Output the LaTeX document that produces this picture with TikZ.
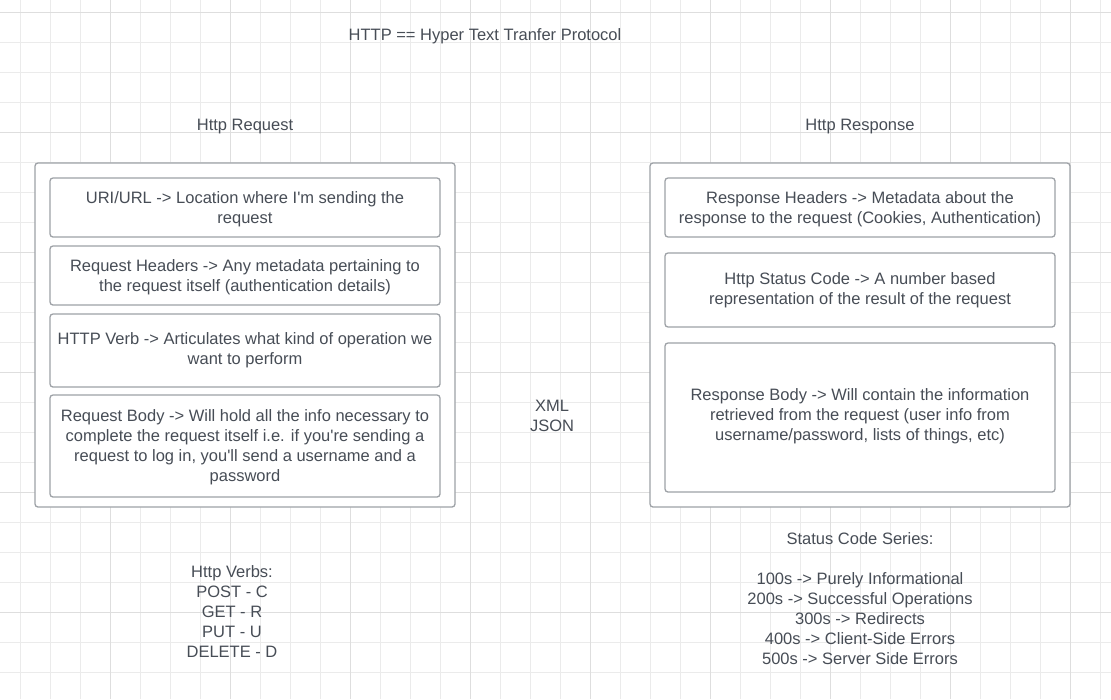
\documentclass[tikz,border=0pt]{standalone}
\usepackage{fontspec}
\setmainfont{Liberation Sans}
\definecolor{txt}{HTML}{474D56}
\definecolor{bord}{HTML}{9EA2A7}
\definecolor{gridminor}{HTML}{EBEBEB}
\definecolor{gridmajor}{HTML}{DEDEDE}
\newcommand{\sq}{\textquotesingle}
\tikzset{
  box/.style={draw=bord, line width=1.3pt, rounded corners=3pt, fill=white, inner sep=0pt},
  plaintext/.style={text=txt, align=center, inner sep=0pt, font=\fontsize{16.5}{20}\selectfont},
  boxtext/.style 2 args={label={[plaintext, yshift=#1]center:{#2}}},
}
\begin{document}
\begin{tikzpicture}[x=1pt,y=-1pt]
\useasboundingbox (0,0) rectangle (1111,699);
\fill[white] (0,0) rectangle (1111,699);
% grid
\foreach \k in {0,...,36} {
  \draw[gridminor, line width=1pt] ({20.5+30*\k},0) -- ({20.5+30*\k},699);
}
\foreach \k in {0,...,23} {
  \draw[gridminor, line width=1pt] (0,{12.5+30*\k}) -- (1111,{12.5+30*\k});
}
\foreach \k in {0,...,8} {
  \draw[gridmajor, line width=1pt] ({110.5+120*\k},0) -- ({110.5+120*\k},699);
}
\foreach \k in {0,...,5} {
  \draw[gridmajor, line width=1pt] (0,{12.5+120*\k}) -- (1111,{12.5+120*\k});
}
% titles
\node[plaintext] (title) at (485,36.5) {HTTP == Hyper Text Tranfer Protocol};
\node[plaintext] (reqtitle) at (245,126.5) {Http Request};
\node[plaintext] (restitle) at (860,126.5) {Http Response};
% outer boxes
\node[box, minimum width=420pt, minimum height=344pt] (reqouter) at (245,335) {};
\node[box, minimum width=420pt, minimum height=344pt] (resouter) at (860,335) {};
% request inner boxes
\node[box, minimum width=390pt, minimum height=59pt,
  boxtext={-2pt}{URI/URL -> Location where I\sq m sending the\\request}] (uri) at (245,207.5) {};
\node[box, minimum width=390pt, minimum height=59pt,
  boxtext={-2pt}{Request Headers -> Any metadata pertaining to\\the request itself (authentication details)}] (reqhead) at (245,275.5) {};
\node[box, minimum width=390pt, minimum height=73pt,
  boxtext={0pt}{HTTP Verb -> Articulates what kind of operation we\\want to perform}] (verb) at (245,350.5) {};
\node[box, minimum width=390pt, minimum height=102pt,
  boxtext={-1pt}{Request Body -> Will hold all the info necessary to\\complete the request itself i.e. if you\sq re sending a\\request to log in, you\sq ll send a username and a\\password}] (reqbody) at (245,446) {};
% response inner boxes
\node[box, minimum width=390pt, minimum height=59pt,
  boxtext={-2pt}{Response Headers -> Metadata about the\\response to the request (Cookies, Authentication)}] (reshead) at (860,207.5) {};
\node[box, minimum width=390pt, minimum height=74pt,
  boxtext={0pt}{Http Status Code -> A number based\\representation of the result of the request}] (status) at (860,290) {};
\node[box, minimum width=390pt, minimum height=149pt,
  boxtext={1pt}{Response Body -> Will contain the information\\retrieved from the request (user info from\\username/password, lists of things, etc)}] (resbody) at (860,417.5) {};
% middle
\node[plaintext] (formats) at (552,416) {XML\\JSON};
% bottom notes
\node[plaintext] (verbs) at (232,612) {Http Verbs:\\POST - C\\GET - R\\PUT - U\\DELETE - D};
\node[plaintext] (codes) at (860,599) {Status Code Series:\\[20pt]100s -> Purely Informational\\200s -> Successful Operations\\300s -> Redirects\\400s -> Client-Side Errors\\500s -> Server Side Errors};
\end{tikzpicture}
\end{document}
